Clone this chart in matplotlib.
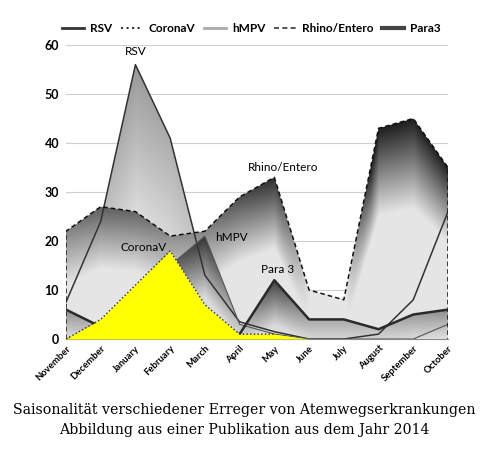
import numpy as np
import matplotlib.pyplot as plt
from matplotlib.patches import Polygon
from matplotlib.lines import Line2D

months = ['November', 'December', 'January', 'February', 'March', 'April',
          'May', 'June', 'July', 'August', 'September', 'October']
rsv = [7.5, 24, 56, 41, 13, 3.5, 1.5, 0, 0, 1, 8, 26]
corona = [0, 4, 11, 18, 7, 1, 1, 0, 0, 0, 0, 0]
hmpv = [0, 2, 8, 15, 21, 3, 1, 0, 0, 0, 0, 3]
rhino = [22, 27, 26, 21, 22, 29, 33, 10, 8, 43, 45, 35]
para3 = [6, 2.5, 1, 1, 2, 1, 12, 4, 4, 2, 5, 6]

x = np.arange(len(months))
lab_font = 'Lato'


def grad_fill(ax, vals, dark, light, lo, hi, dk, d0, z):
    # gray gradient, darkest just under the curve, fading downwards
    xs = np.linspace(0, 11, 550)
    ys = np.linspace(0, 60, 400)
    X, Y = np.meshgrid(xs, ys)
    top = np.interp(X, x, vals)
    d = top - Y
    depth = dk * top + d0
    s = np.clip((top - lo) / (hi - lo), 0, 1) * np.clip(1 - d / depth, 0, 1)
    g = light - (light - dark) * s
    img = np.dstack([g, g, g])
    im = ax.imshow(img, extent=(0, 11, 0, 60), origin='lower', aspect='auto',
                   zorder=z, interpolation='bilinear')
    poly = Polygon(np.column_stack([np.r_[0, x, 11], np.r_[0, vals, 0]]),
                   closed=True, transform=ax.transData)
    im.set_clip_path(poly)


fig = plt.figure(figsize=(4.88, 4.58), dpi=100)
ax = fig.add_axes([0.1352, 0.2598, 0.7828, 0.6419])

grad_fill(ax, rsv, 0.6, 0.88, 0, 56, 0.5, 4, 1)
grad_fill(ax, rhino, 0.12, 0.9, 10, 35, 0.32, 4, 2)
grad_fill(ax, hmpv, 0.2, 0.86, 0, 21, 0.5, 2, 3)
grad_fill(ax, para3, 0.25, 0.86, 0, 12, 0.6, 2, 4)

ax.plot(x, rsv, color='#333333', lw=1.1, zorder=5)
ax.plot(x, hmpv, color='#555555', lw=0.8, zorder=5)
ax.plot(np.r_[0, x, 11], np.r_[0, rhino, 0], color='#111111', lw=1.1,
        ls=(0, (3, 2)), zorder=5)
ax.plot(x, para3, color='#2a2a2a', lw=1.8, zorder=5)

ax.fill_between(x, 0, corona, color='#ffff00', lw=0, zorder=6)
ax.plot(x[:7], corona[:7], color='#333333', lw=1, ls=':', zorder=7)

ax.set_xlim(0, 11)
ax.set_ylim(0, 60)
ax.set_yticks([0, 10, 20, 30, 40, 50, 60])
ax.grid(axis='y', color='#cfcfcf', lw=0.8, zorder=0)
ax.set_axisbelow(True)
for s in ['top', 'right', 'left']:
    ax.spines[s].set_visible(False)
ax.spines['bottom'].set_color('#888888')
ax.tick_params(length=0)
ax.tick_params(axis='y', pad=5)
for t in ax.get_yticklabels():
    t.set_fontsize(9)
    t.set_fontweight('bold')
    t.set_fontfamily(lab_font)
ax.set_xticks(x)
ax.set_xticklabels(months, rotation=45, ha='right', rotation_mode='anchor',
                   fontsize=6.8, fontweight='bold', fontfamily=lab_font)

ax.text(2, 57.5, 'RSV', ha='center', va='bottom', fontsize=8.5, fontfamily=lab_font, zorder=8)
ax.text(2.9, 17.5, 'CoronaV', ha='right', va='bottom', fontsize=8.5, fontfamily=lab_font, zorder=8)
ax.text(4.3, 19.5, 'hMPV', ha='left', va='bottom', fontsize=8.5, fontfamily=lab_font, zorder=8)
ax.text(6.25, 33.8, 'Rhino/Entero', ha='center', va='bottom', fontsize=8.5, fontfamily=lab_font, zorder=8)
ax.text(6.1, 13, 'Para 3', ha='center', va='bottom', fontsize=8.5, fontfamily=lab_font, zorder=8)

handles = [
    Line2D([], [], color='#333333', lw=2),
    Line2D([], [], color='#333333', lw=1.5, ls=':'),
    Line2D([], [], color='#aaaaaa', lw=2),
    Line2D([], [], color='#333333', lw=1.2, ls=(0, (3, 2))),
    Line2D([], [], color='#444444', lw=3),
]
fig.legend(handles, ['RSV', 'CoronaV', 'hMPV', 'Rhino/Entero', 'Para3'],
           loc='center', bbox_to_anchor=(0.515, 0.938), ncol=5, frameon=False,
           prop={'family': lab_font, 'size': 8.5, 'weight': 'bold'},
           handlelength=1.9, handletextpad=0.5, columnspacing=0.7)

fig.text(0.5, 0.097, 'Saisonalität verschiedener Erreger von Atemwegserkrankungen',
         ha='center', va='baseline', fontsize=10.2, fontfamily='DejaVu Serif')
fig.text(0.5, 0.052, 'Abbildung aus einer Publikation aus dem Jahr 2014',
         ha='center', va='baseline', fontsize=10.2, fontfamily='DejaVu Serif')

fig.savefig('out.png', dpi=100)
